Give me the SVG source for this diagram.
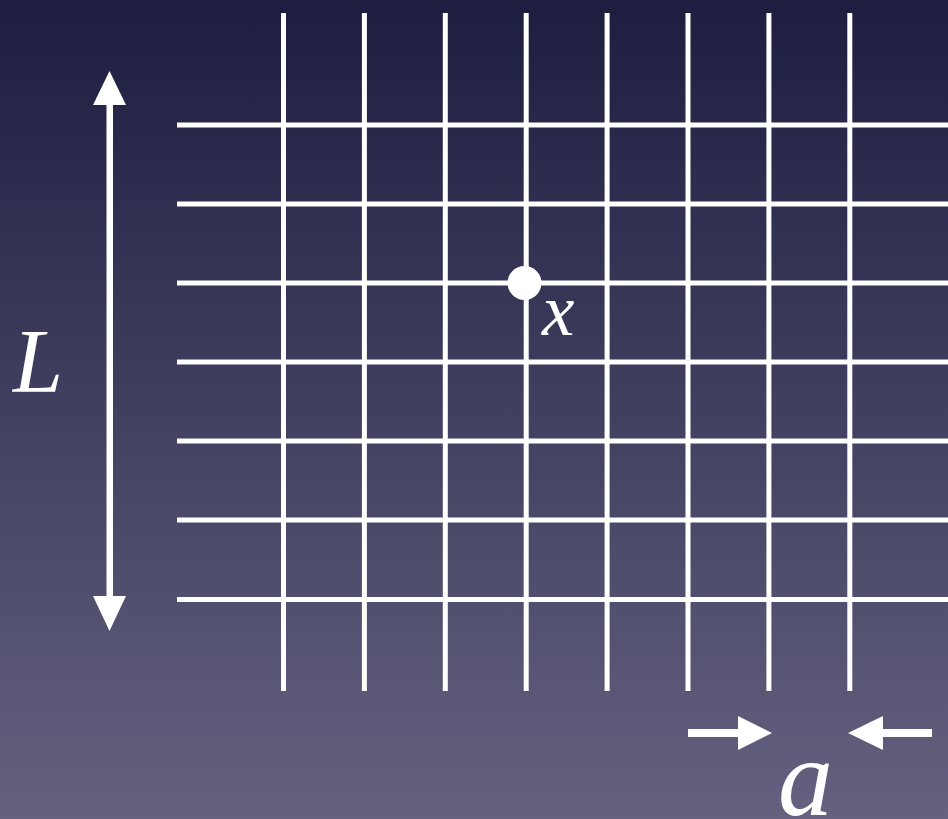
<svg xmlns="http://www.w3.org/2000/svg" width="948" height="819" viewBox="0 0 948 819">
<defs>
<linearGradient id="bg" x1="0" y1="0" x2="0" y2="1">
<stop offset="0" stop-color="#1d1d40"/>
<stop offset="1" stop-color="#64627f"/>
</linearGradient>
</defs>
<style>
.g{stroke:#fff;stroke-width:5;fill:none}
.w{fill:#fff}
.m{font-family:"Liberation Serif","DejaVu Serif",serif;font-style:italic;fill:#fff}
</style>
<rect width="948" height="819" fill="url(#bg)"/>
<g id="grid" class="g">
<line x1="283.5" y1="13" x2="283.5" y2="691"/>
<line x1="364.4" y1="13" x2="364.4" y2="691"/>
<line x1="445.3" y1="13" x2="445.3" y2="691"/>
<line x1="526.2" y1="13" x2="526.2" y2="691"/>
<line x1="607.1" y1="13" x2="607.1" y2="691"/>
<line x1="688" y1="13" x2="688" y2="691"/>
<line x1="768.9" y1="13" x2="768.9" y2="691"/>
<line x1="849.8" y1="13" x2="849.8" y2="691"/>
<line x1="177" y1="125" x2="948" y2="125"/>
<line x1="177" y1="204" x2="948" y2="204"/>
<line x1="177" y1="283" x2="948" y2="283"/>
<line x1="177" y1="362" x2="948" y2="362"/>
<line x1="177" y1="441" x2="948" y2="441"/>
<line x1="177" y1="520" x2="948" y2="520"/>
<line x1="177" y1="599.5" x2="948" y2="599.5"/>
</g>
<g id="point">
<circle class="w" cx="524.5" cy="283" r="17"/>
<text class="m" x="542" y="335" font-size="73">x</text>
</g>
<g id="connectors">
<g id="arrow-L">
<rect class="w" x="106.5" y="100" width="6.5" height="500"/>
<polygon class="w" points="109.5,71 126,105 93,105"/>
<polygon class="w" points="109.5,631 126,596 93,596"/>
</g>
<g id="arrow-a">
<rect class="w" x="688" y="729" width="52" height="8"/>
<polygon class="w" points="772,733 738,716 738,750"/>
<rect class="w" x="880" y="729" width="52" height="8"/>
<polygon class="w" points="848,733 883,716 883,750"/>
</g>
</g>
<g id="labels">
<text class="m" x="13" y="392" font-size="90">L</text>
<text class="m" x="778" y="815" font-size="110">a</text>
</g>
</svg>
